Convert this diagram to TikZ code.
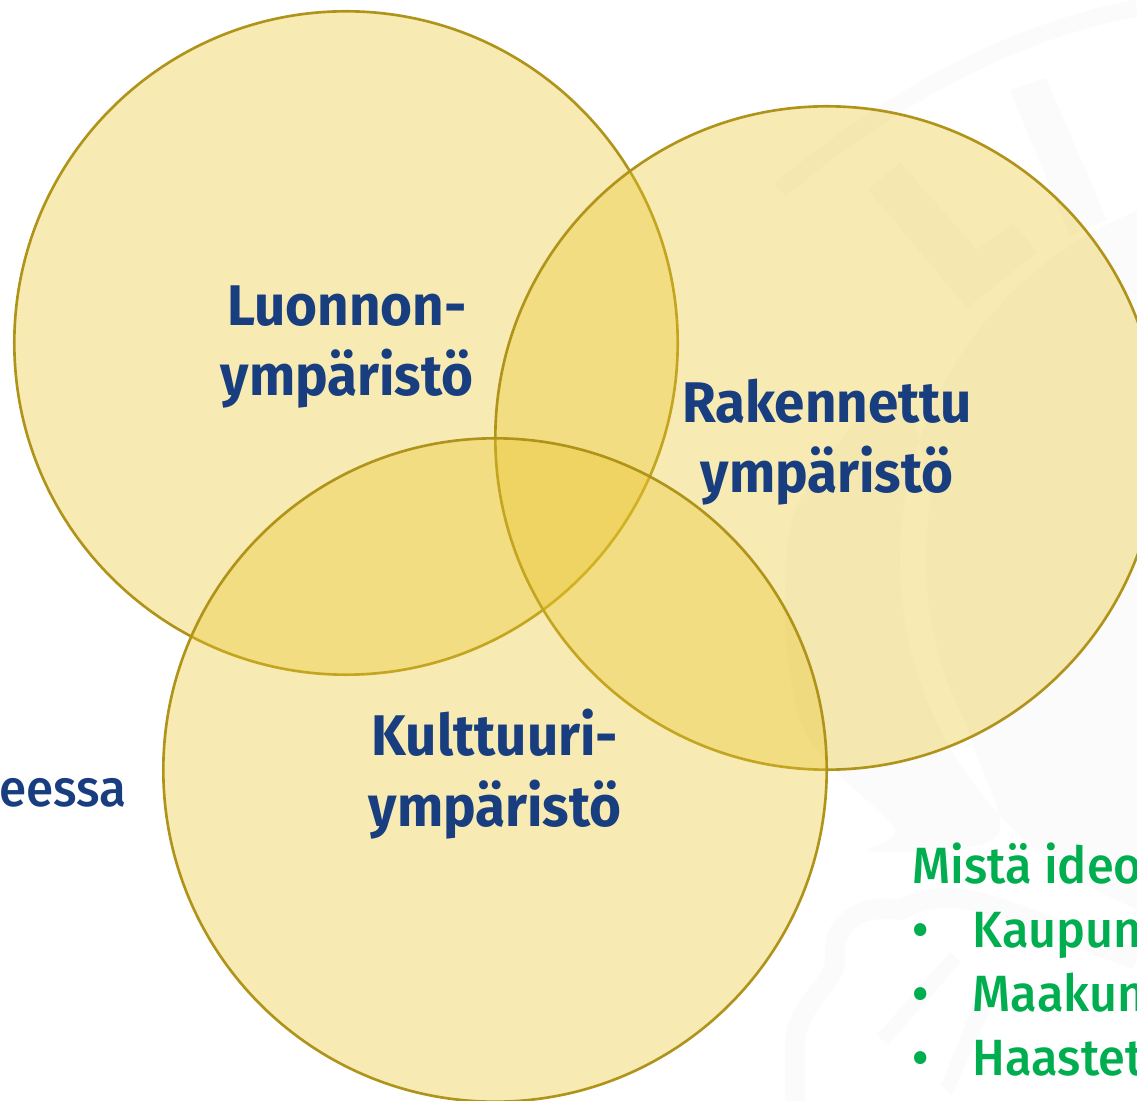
\documentclass[tikz,border=0pt]{standalone}
\usepackage{fontspec}
\setmainfont[FakeStretch=0.955]{Fira Sans}
\newfontfamily\mediumfont[FakeStretch=0.955]{Fira Sans Medium}
\definecolor{ringline}{HTML}{B0941A}
\definecolor{ringfill}{HTML}{E9C52C}
\definecolor{titleblue}{HTML}{183E80}
\definecolor{ideagreen}{HTML}{00AE50}
\definecolor{seal}{HTML}{FBFBFB}
\tikzstyle{ring}=[circle, draw=ringline, fill=ringfill, fill opacity=0.36, draw opacity=1,
  line width=0.75pt, minimum size=6.63cm, inner sep=0pt, outer sep=0pt]
\tikzstyle{title}=[text=titleblue, font=\fontsize{16.3}{20}\selectfont\bfseries, align=center]
\tikzstyle{idea}=[text=ideagreen, font=\fontsize{14.5}{18}\mediumfont, anchor=base west, inner sep=0pt]
\begin{document}
\begin{tikzpicture}[x=0.01cm,y=-0.01cm]
  \useasboundingbox (0,0) rectangle (1137,1101);
  \clip (0,0) rectangle (1137,1101);
  % faint seal behind the rings
  \fill[seal] (1275,560) circle (3.49cm);
  \fill[seal, even odd rule] plot[smooth cycle] coordinates {(905,400) (800,500) (785,620) (800,720) (835,770) (895,830) (868,850) (930,850) (1000,830) (960,700)} (1275,560) circle (3.75cm);
  \draw[seal, line width=0.17cm] (1137,8) .. controls (1020,30) and (900,90) .. (780,190);
  \draw[seal, line width=0.2cm] (795,1101) -- (795,1040) .. controls (800,1000) and (835,985) .. (835,960) .. controls (830,910) and (880,905) .. (900,910) .. controls (960,880) and (1000,910) .. (1137,960);
  \fill[seal] (1010,90) -- (1046,78) -- (1107,220) -- (1070,236) -- cycle;
  \fill[seal] (868,190) -- (900,162) -- (977,250) -- (1013,223) -- (1037,252) -- (967,308) -- cycle;
  \fill[seal] (877,1035) -- (950,952) -- (961,962) -- (888,1045) -- cycle;
  \fill[seal] (941,1085) -- (975,1000) -- (990,1010) -- (952,1095) -- cycle;
  \node (luonto) [ring] at (346,343) {};
  \node (rakennettu) [ring] at (827,438) {};
  \node (kulttuuri) [ring] at (495,770) {};
  % labels
  \node (tluonto) [title] at (347,347) {Luonnon-\\ympäristö};
  \node (trakennettu) [title] at (827,442) {Rakennettu\\ympäristö};
  \node (tkulttuuri) [title] at (495,774) {Kulttuuri-\\ympäristö};
  \node (reuna) [text=titleblue, font=\fontsize{14.7}{18}\mediumfont, anchor=base east, inner sep=0pt] at (127,806) {eessa};
  \node (idea0) [idea] at (912,883) {Mistä ideo};
  \node (idea1) [idea] at (912,947) {•};
  \node (idea1t) [idea] at (972,947) {Kaupun};
  \node (idea2) [idea] at (912,1011) {•};
  \node (idea2t) [idea] at (972,1011) {Maakun};
  \node (idea3) [idea] at (912,1075) {•};
  \node (idea3t) [idea] at (972,1075) {Haastet};
\end{tikzpicture}
\end{document}
